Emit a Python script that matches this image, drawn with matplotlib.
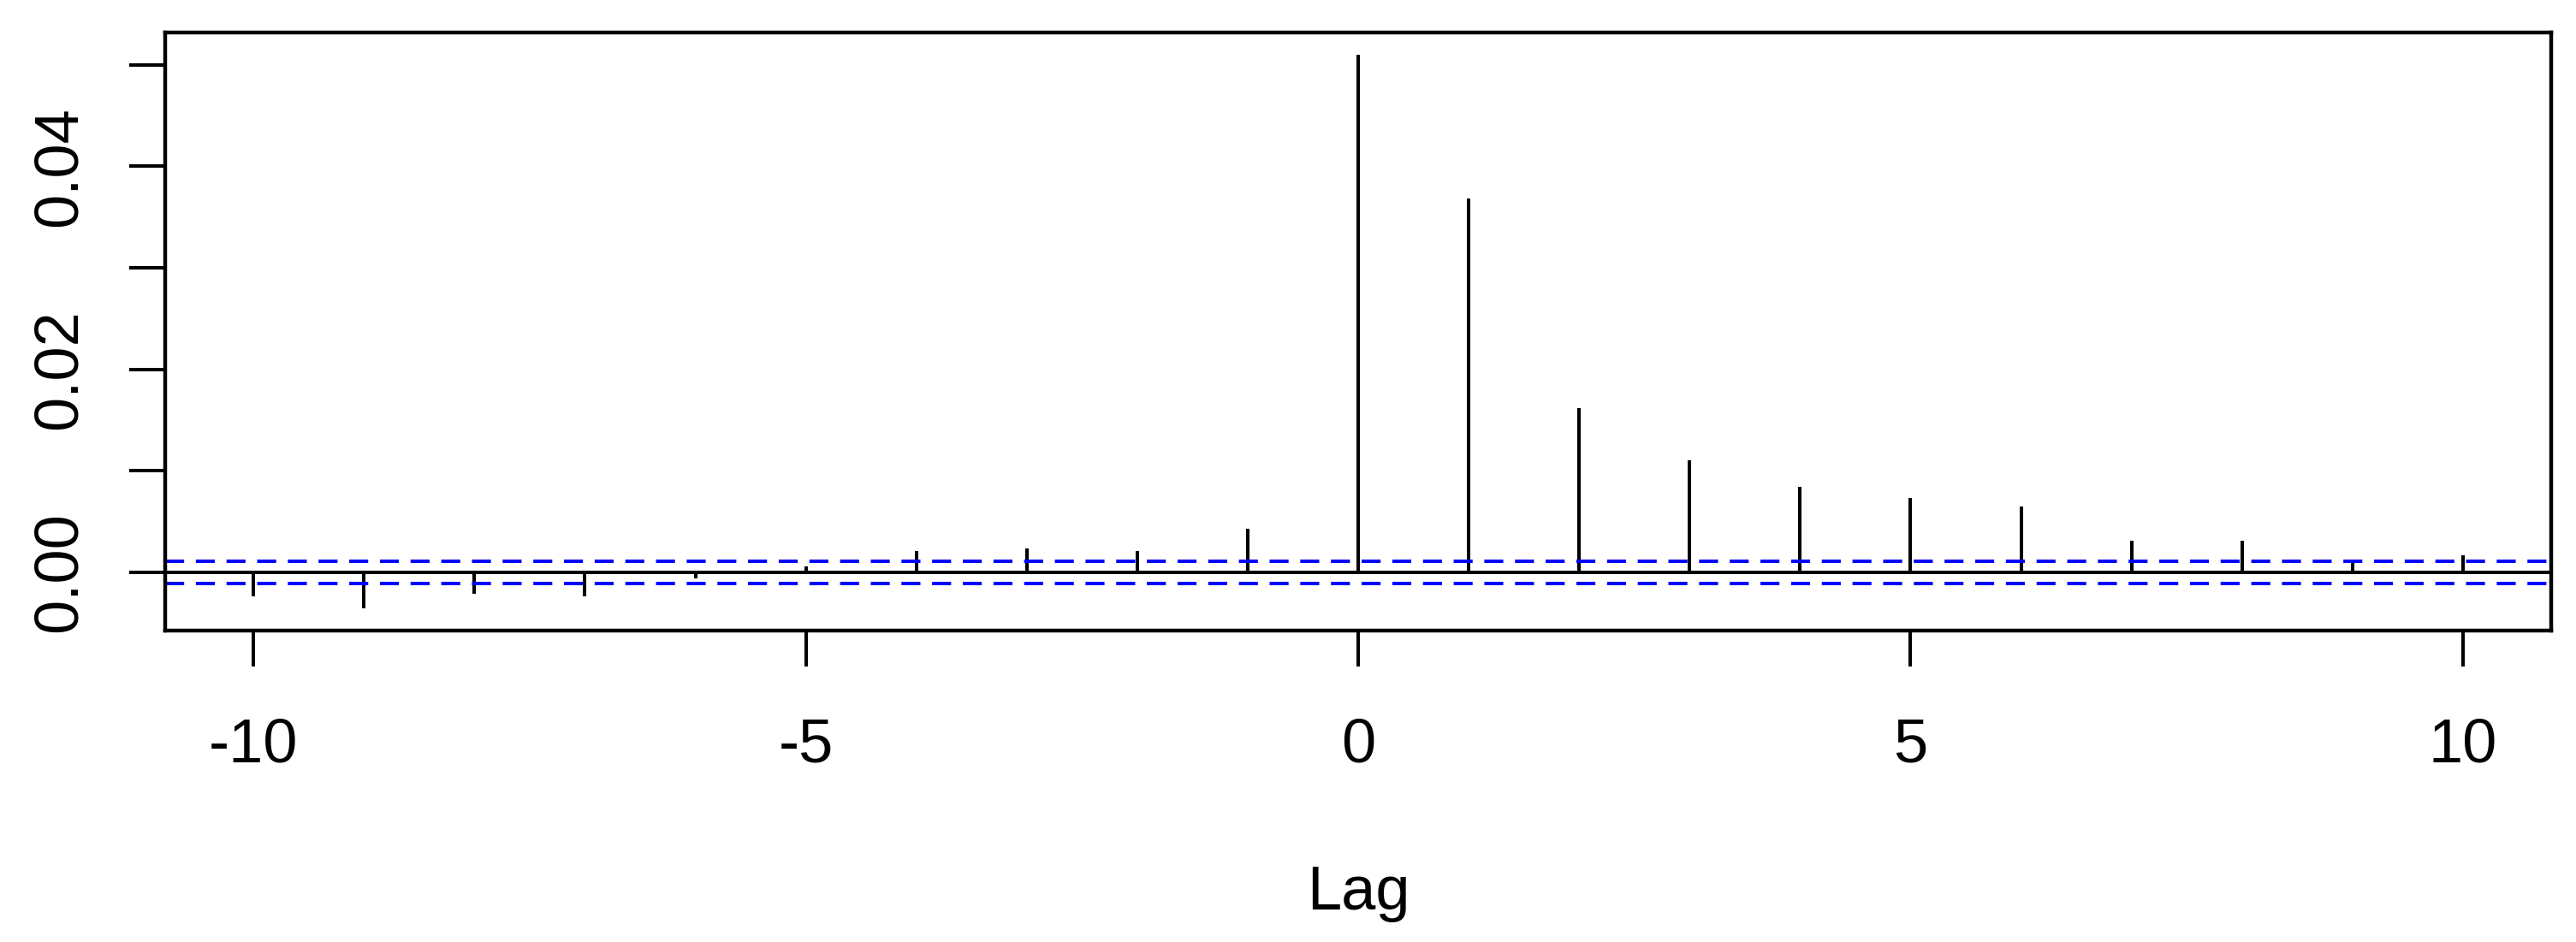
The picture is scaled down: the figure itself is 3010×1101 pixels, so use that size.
import matplotlib
matplotlib.use("Agg")
import matplotlib.pyplot as plt

# Cross-correlation values (lags -10 .. 10)
lags = list(range(-10, 11))
ccf_values = [-0.0024, -0.00355, -0.0021, -0.0024, -0.0006, 0.00055, 0.0021, 0.0024, 0.0021, 0.0043,
              0.0510, 0.0368, 0.0162, 0.0110, 0.0084, 0.0073, 0.0065, 0.0031, 0.0031, 0.0013, 0.0017]
conf_limit = 0.00112  # blue dashed significance bounds

x_ticks = [-10, -5, 0, 5, 10]
x_tick_labels = ["-10", "-5", "0", "5", "10"]
y_ticks = [0.0, 0.01, 0.02, 0.03, 0.04, 0.05]
y_tick_labels = ["0.00", "", "0.02", "", "0.04", ""]

plt.rcParams['font.family'] = ['Liberation Sans', 'DejaVu Sans']

fig = plt.figure(figsize=(30.10, 11.01), dpi=100)
ax = fig.add_axes([0.0641, 0.3306, 0.9263, 0.6349])

lw = 2.9
ax.vlines(lags, 0, ccf_values, color='black', lw=lw)
ax.axhline(0, color='black', lw=lw)
ax.axhline(conf_limit, color='blue', lw=lw, ls=(0, (5.5, 3.4)))
ax.axhline(-conf_limit, color='blue', lw=lw, ls=(0, (5.5, 3.4)))

# R style 4% padding around the data range
xr = max(lags) - min(lags)
ax.set_xlim(min(lags) - 0.04 * xr, max(lags) + 0.04 * xr)
lo = min(min(ccf_values), -conf_limit)
hi = max(max(ccf_values), conf_limit)
ax.set_ylim(lo - 0.04 * (hi - lo), hi + 0.04 * (hi - lo))

ax.set_xticks(x_ticks)
ax.set_xticklabels(x_tick_labels)
ax.set_yticks(y_ticks)
ax.set_yticklabels(y_tick_labels, rotation=90, va='center')

ax.tick_params(axis='both', length=30, width=lw, labelsize=52, colors='black')
ax.tick_params(axis='x', pad=43)
ax.tick_params(axis='y', pad=34)
for s in ax.spines.values():
    s.set_linewidth(3.2)

ax.set_xlabel("Lag", fontsize=52, va='baseline')
ax.xaxis.set_label_coords(0.5, -0.466)

fig.savefig("out.png", dpi=100)
